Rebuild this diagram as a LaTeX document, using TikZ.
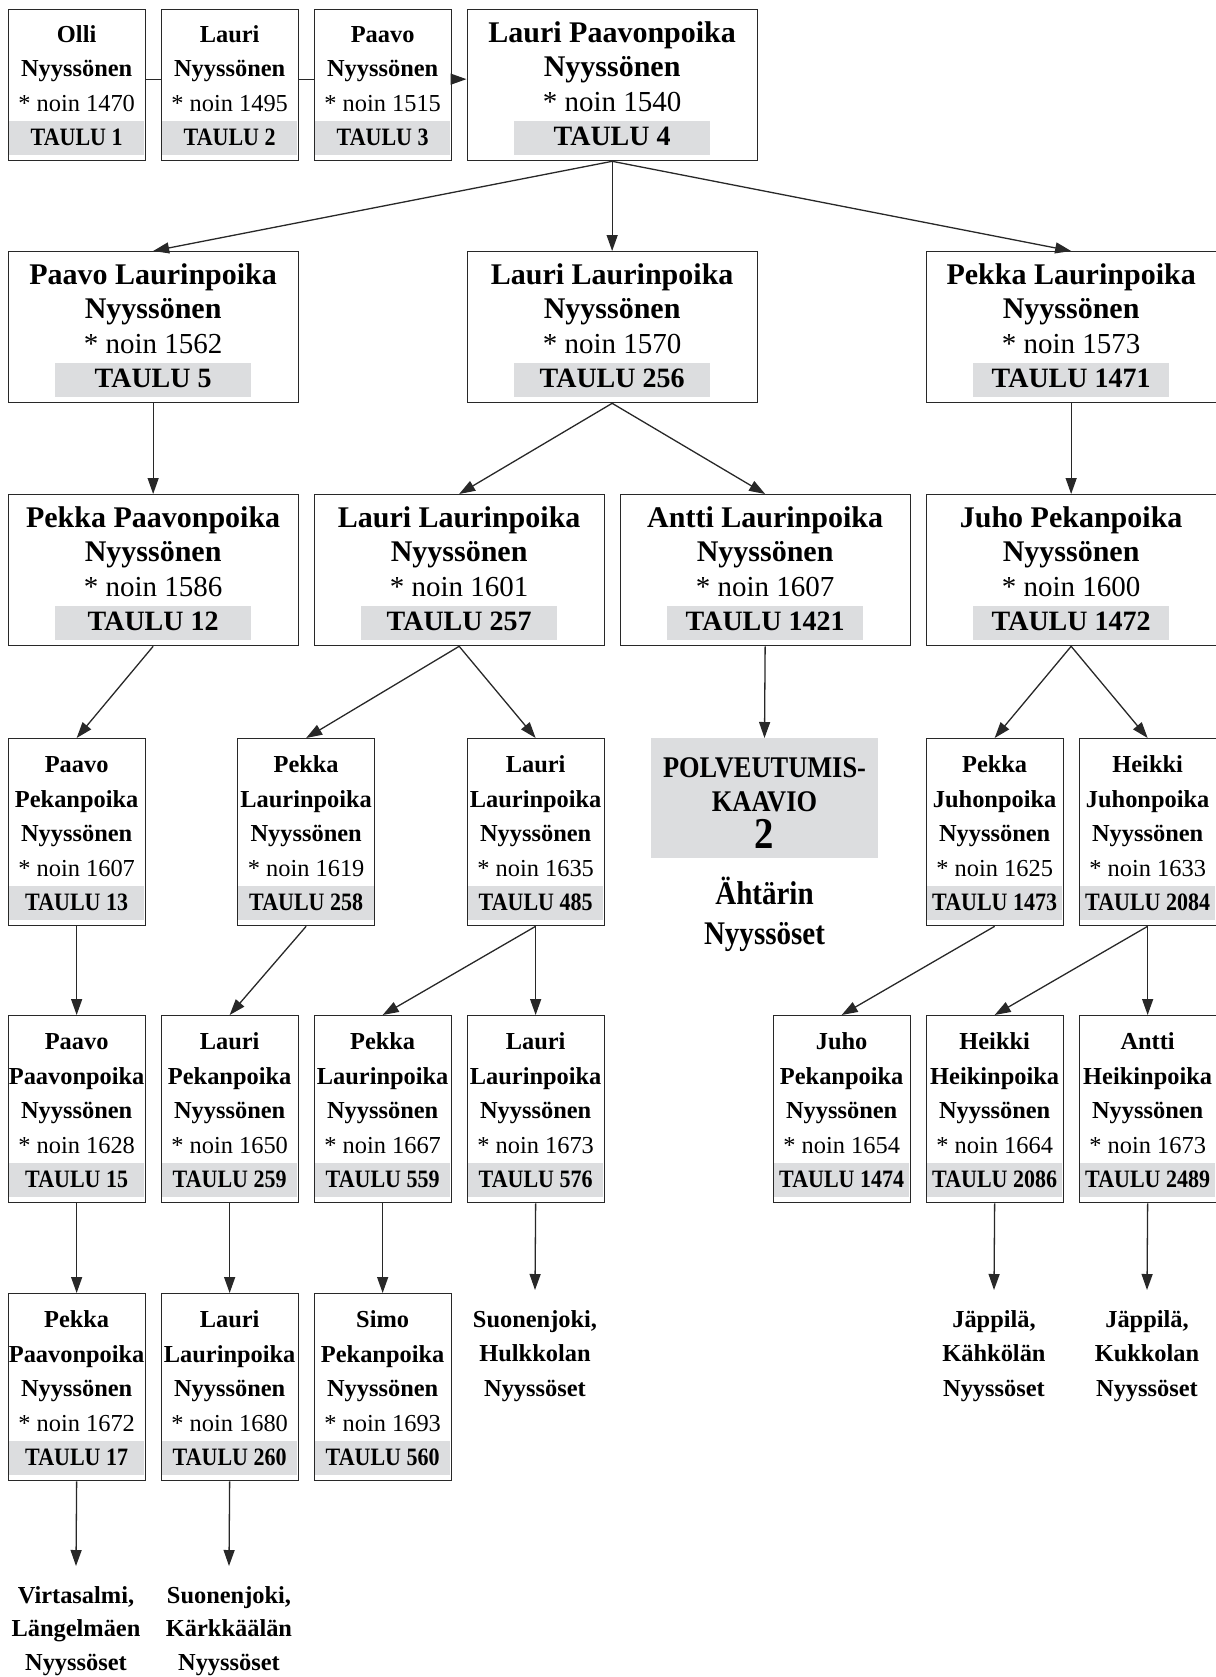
\documentclass[tikz,border=0pt]{standalone}
\usepackage{fontspec}
\setmainfont{Liberation Serif}
\newfontfamily\tiivis[FakeStretch=0.88]{Liberation Serif}
\usepackage{tikz}
\usetikzlibrary{arrows.meta}

\definecolor{taulugray}{RGB}{220,221,223}
\definecolor{viiva}{RGB}{40,40,40}

% narrow card: [height]{name}{year}{table}
\newcommand{\kapea}[4][93.5pt]{%
  \parbox[b][#1][b]{68.5pt}{\centering
    {\bfseries\fontsize{12.2}{17.25}\selectfont #2\par}%
    {\fontsize{12.2}{17.25}\selectfont * noin #3\par}%
    {\setlength{\fboxsep}{0pt}\tiivis\bfseries\fontsize{12.5}{17.25}\selectfont
      \colorbox{taulugray}{\makebox[67.8pt]{\rule[-4.5pt]{0pt}{17pt}TAULU #4}}\par}%
    \vspace{3pt}}}
% wide card: {name}{year}{table}
\newcommand{\levea}[3]{%
  \parbox[b][75.5pt][b]{145pt}{\centering
    {\bfseries\fontsize{15}{17.25}\selectfont #1\par}%
    {\fontsize{14.5}{17.25}\selectfont * noin #2\par}%
    {\setlength{\fboxsep}{0pt}\bfseries\fontsize{14}{17.25}\selectfont
      \colorbox{taulugray}{\makebox[98pt]{\rule[-4.5pt]{0pt}{17pt}TAULU #3}}\par}%
    \vspace{3pt}}}

\begin{document}
\begin{tikzpicture}[x=0.5pt, y=-0.5pt,
    card/.style={draw=viiva, line width=0.65pt, inner sep=0pt, anchor=north west},
    paikka/.style={align=center, anchor=north, inner xsep=0pt, inner ysep=10pt,
      font=\bfseries\fontsize{12.2}{17.25}\selectfont},
    viivasto/.style={draw=viiva, line width=0.65pt},
    nuoli/.style={viivasto, -{Triangle[length=8pt,width=5.5pt]}}]
      \useasboundingbox (0,0) rectangle (1216,1677);

      % first generations
      \node[card] (t1) at (7.5,9) {\kapea[75.5pt]{Olli\\Nyyssönen}{1470}{1}};
      \node[card] (t2) at (160.5,9) {\kapea[75.5pt]{Lauri\\Nyyssönen}{1495}{2}};
      \node[card] (t3) at (313.5,9) {\kapea[75.5pt]{Paavo\\Nyyssönen}{1515}{3}};
      \node[card] (t4) at (466.5,9) {\levea{Lauri Paavonpoika\\Nyyssönen}{1540}{4}};

      \node[card] (t5) at (7.5,251) {\levea{Paavo Laurinpoika\\Nyyssönen}{1562}{5}};
      \node[card] (t256) at (466.5,251) {\levea{Lauri Laurinpoika\\Nyyssönen}{1570}{256}};
      \node[card] (t1471) at (925.5,251) {\levea{Pekka Laurinpoika\\Nyyssönen}{1573}{1471}};

      \node[card] (t12) at (7.5,494) {\levea{Pekka Paavonpoika\\Nyyssönen}{1586}{12}};
      \node[card] (t257) at (313.5,494) {\levea{Lauri Laurinpoika\\Nyyssönen}{1601}{257}};
      \node[card] (t1421) at (619.5,494) {\levea{Antti Laurinpoika\\Nyyssönen}{1607}{1421}};
      \node[card] (t1472) at (925.5,494) {\levea{Juho Pekanpoika\\Nyyssönen}{1600}{1472}};

      % narrow rows
      \node[card] (t13) at (7.5,738) {\kapea{Paavo\\Pekanpoika\\Nyyssönen}{1607}{13}};
      \node[card] (t258) at (237,738) {\kapea{Pekka\\Laurinpoika\\Nyyssönen}{1619}{258}};
      \node[card] (t485) at (466.5,738) {\kapea{Lauri\\Laurinpoika\\Nyyssönen}{1635}{485}};
      \node[fill=taulugray, inner sep=0pt, anchor=north] (kaavio) at (764.5,738)
        {\parbox[c][60pt][t]{113.5pt}{\centering\tiivis\bfseries\fontsize{15}{17}\selectfont
          \rule{0pt}{19.5pt}POLVEUTUMIS-\\KAAVIO\\[1.5pt]{\fontsize{22}{17}\selectfont 2}\par}};
      \node[anchor=base, align=center, font=\tiivis\bfseries\fontsize{16.5}{20}\selectfont]
        (ahtari) at (764.5,944) {Ähtärin\\Nyyssöset};
      \node[card] (t1473) at (925.5,738) {\kapea{Pekka\\Juhonpoika\\Nyyssönen}{1625}{1473}};
      \node[card] (t2084) at (1078.5,738) {\kapea{Heikki\\Juhonpoika\\Nyyssönen}{1633}{2084}};

      \node[card] (t15) at (7.5,1015) {\kapea{Paavo\\Paavonpoika\\Nyyssönen}{1628}{15}};
      \node[card] (t259) at (160.5,1015) {\kapea{Lauri\\Pekanpoika\\Nyyssönen}{1650}{259}};
      \node[card] (t559) at (313.5,1015) {\kapea{Pekka\\Laurinpoika\\Nyyssönen}{1667}{559}};
      \node[card] (t576) at (466.5,1015) {\kapea{Lauri\\Laurinpoika\\Nyyssönen}{1673}{576}};
      \node[card] (t1474) at (772.5,1015) {\kapea{Juho\\Pekanpoika\\Nyyssönen}{1654}{1474}};
      \node[card] (t2086) at (925.5,1015) {\kapea{Heikki\\Heikinpoika\\Nyyssönen}{1664}{2086}};
      \node[card] (t2489) at (1078.5,1015) {\kapea{Antti\\Heikinpoika\\Nyyssönen}{1673}{2489}};

      \node[card] (t17) at (7.5,1293) {\kapea{Pekka\\Paavonpoika\\Nyyssönen}{1672}{17}};
      \node[card] (t260) at (160.5,1293) {\kapea{Lauri\\Laurinpoika\\Nyyssönen}{1680}{260}};
      \node[card] (t560) at (313.5,1293) {\kapea{Simo\\Pekanpoika\\Nyyssönen}{1693}{560}};
      \node[paikka] (hulkkola) at (535,1290) {Suonenjoki,\\Hulkkolan\\Nyyssöset};
      \node[paikka] (kahkola) at (994,1290) {Jäppilä,\\Kähkölän\\Nyyssöset};
      \node[paikka] (kukkola) at (1147,1290) {Jäppilä,\\Kukkolan\\Nyyssöset};

      \node[paikka, font=\bfseries\fontsize{12.2}{16.75}\selectfont]
        (virtasalmi) at (76,1566) {Virtasalmi,\\Längelmäen\\Nyyssöset};
      \node[paikka, font=\bfseries\fontsize{12.2}{16.75}\selectfont]
        (karkkaala) at (229,1566) {Suonenjoki,\\Kärkkäälän\\Nyyssöset};

      % connectors
      \draw[viivasto] ([yshift=3pt]t1.east) -- ([yshift=3pt]t2.west);
      \draw[viivasto] ([yshift=3pt]t2.east) -- ([yshift=3pt]t3.west);
      \draw[nuoli] ([yshift=3pt]t3.east) -- ([yshift=3pt]t4.west);
      \draw[nuoli] (t4.south) -- (t5.north);
      \draw[nuoli] (t4.south) -- (t256.north);
      \draw[nuoli] (t4.south) -- (t1471.north);
      \draw[nuoli] (t5.south) -- (t12.north);
      \draw[nuoli] (t256.south) -- (t257.north);
      \draw[nuoli] (t256.south) -- (t1421.north);
      \draw[nuoli] (t1471.south) -- (t1472.north);
      \draw[nuoli] (t12.south) -- (t13.north);
      \draw[nuoli] (t257.south) -- (t258.north);
      \draw[nuoli] (t257.south) -- (t485.north);
      \draw[nuoli] (t1421.south) -- (kaavio.north);
      \draw[nuoli] (t1472.south) -- (t1473.north);
      \draw[nuoli] (t1472.south) -- (t2084.north);
      \draw[nuoli] (t13.south) -- (t15.north);
      \draw[nuoli] (t258.south) -- (t259.north);
      \draw[nuoli] (t485.south) -- (t559.north);
      \draw[nuoli] (t485.south) -- (t576.north);
      \draw[nuoli] (t1473.south) -- (t1474.north);
      \draw[nuoli] (t2084.south) -- (t2086.north);
      \draw[nuoli] (t2084.south) -- (t2489.north);
      \draw[nuoli] (t15.south) -- (t17.north);
      \draw[nuoli] (t259.south) -- (t260.north);
      \draw[nuoli] (t559.south) -- (t560.north);
      \draw[nuoli] (t576.south) -- (hulkkola.north);
      \draw[nuoli] (t2086.south) -- (kahkola.north);
      \draw[nuoli] (t2489.south) -- (kukkola.north);
      \draw[nuoli] (t17.south) -- (virtasalmi.north);
      \draw[nuoli] (t260.south) -- (karkkaala.north);
\end{tikzpicture}
\end{document}
